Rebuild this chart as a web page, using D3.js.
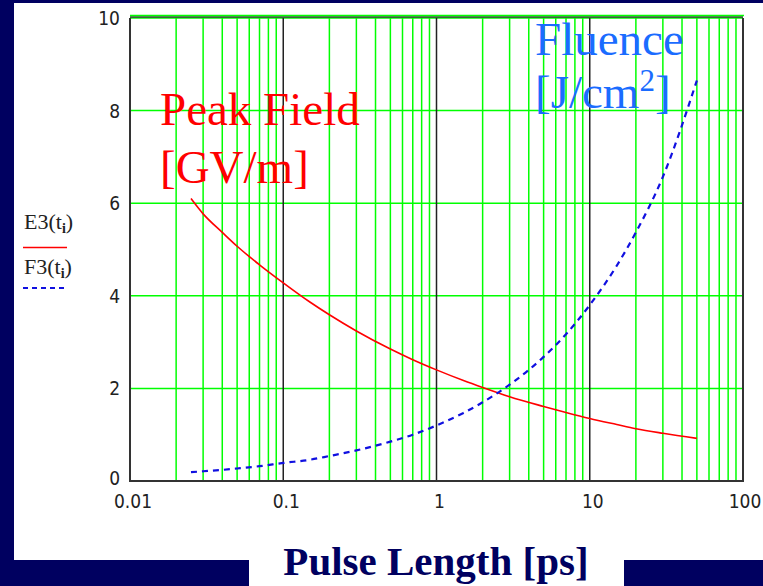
<!DOCTYPE html>
<html>
<head>
<meta charset="utf-8">
<script src="https://cdn.jsdelivr.net/npm/d3@7"></script>
<style>
  html, body { margin: 0; padding: 0; background: #000060; }
  svg { display: block; }
</style>
</head>
<body>
<svg id="chart" width="763" height="586"></svg>
<script>
// pulse length samples [ps]
const pulseLength = [0.025, 0.03, 0.04, 0.05, 0.07, 0.1, 0.15, 0.2, 0.3, 0.5, 0.7,
                     1, 1.5, 2, 3, 5, 7, 10, 15, 20, 30, 50];
// peak field E3 [GV/m]
const peakField = [6.1, 5.77, 5.37, 5.07, 4.67, 4.28, 3.86, 3.59, 3.24, 2.85, 2.62,
                   2.4, 2.17, 2.02, 1.82, 1.61, 1.48, 1.35, 1.22, 1.13, 1.03, 0.92];
// fluence F3 [J/cm^2]
const fluence = [0.19, 0.21, 0.24, 0.27, 0.32, 0.39, 0.46, 0.54, 0.66, 0.85, 1.0,
                 1.2, 1.47, 1.7, 2.08, 2.68, 3.17, 3.8, 4.65, 5.37, 6.57, 8.65];

const xTicks = [0.01, 0.1, 1, 10, 100];
const xTickLabels = ["0.01", "0.1", "1", "10", "100"];
const yTicks = [0, 2, 4, 6, 8, 10];

const svg = d3.select("#chart");
const navy = "#000060";

// white slide panel + title box
svg.append("rect").attr("x", 14).attr("y", 3).attr("width", 749).attr("height", 557).attr("fill", "#fff");
svg.append("rect").attr("x", 249).attr("y", 540).attr("width", 375).attr("height", 46).attr("fill", "#fff");

const pLeft = 130, pRight = 743, pTop = 18, pBottom = 481;

const x = d3.scaleLog().domain([0.01, 100]).range([pLeft, pRight]);
const y = d3.scaleLinear().domain([0, 10]).range([pBottom, pTop]);

const g = svg.append("g");

// minor vertical grid (2..9 per decade)
let minor = [];
for (let d = 0.01; d < 99; d *= 10) {
  for (let k = 2; k <= 9; k++) minor.push(+(d * k).toPrecision(3));
}
g.selectAll(".vminor").data(minor).enter().append("line")
  .attr("x1", d => x(d)).attr("x2", d => x(d))
  .attr("y1", pTop).attr("y2", pBottom)
  .attr("stroke", "#00ff00").attr("stroke-width", 1.5);

// horizontal grid
g.selectAll(".hgrid").data(yTicks.slice(1)).enter().append("line")
  .attr("x1", pLeft).attr("x2", pRight)
  .attr("y1", d => y(d)).attr("y2", d => y(d))
  .attr("stroke", "#00ff00").attr("stroke-width", 1.5);

// decade lines
g.selectAll(".vmajor").data(xTicks.slice(1, -1)).enter().append("line")
  .attr("x1", d => x(d)).attr("x2", d => x(d))
  .attr("y1", pTop).attr("y2", pBottom)
  .attr("stroke", "#222").attr("stroke-width", 1.5);

// frame
g.append("path")
  .attr("d", `M${pLeft},${pTop}V${pBottom}H${pRight}V${pTop}`)
  .attr("fill", "none").attr("stroke", "#333").attr("stroke-width", 2);
g.append("line").attr("x1", pLeft).attr("x2", pRight).attr("y1", pTop - 1).attr("y2", pTop - 1)
  .attr("stroke", "#333").attr("stroke-width", 1.5);
g.append("line").attr("x1", pLeft).attr("x2", pRight + 1).attr("y1", pTop - 2.5).attr("y2", pTop - 2.5)
  .attr("stroke", "#00ff00").attr("stroke-width", 1.5);

// tick labels
const tickFont = "'Liberation Sans Narrow', 'DejaVu Sans Condensed', 'Liberation Sans', sans-serif";
g.selectAll(".ylab").data(yTicks).enter().append("text")
  .attr("x", pLeft - 10).attr("y", d => y(d) + (d === 0 ? 4 : 7))
  .attr("text-anchor", "end")
  .attr("font-family", tickFont).attr("font-size", 19).attr("fill", "#222")
  .text(d => d);
g.selectAll(".xlab").data(xTicks).enter().append("text")
  .attr("x", (d, i) => x(d) + (i === 4 ? 2 : 3))
  .attr("y", pBottom + 27)
  .attr("text-anchor", "middle")
  .attr("font-family", tickFont).attr("font-size", 19).attr("fill", "#222")
  .text((d, i) => xTickLabels[i]);

// curves
const pts = (vals) => pulseLength.map((t, i) => [t, vals[i]]);
const line = d3.line().x(d => x(d[0])).y(d => y(d[1])).curve(d3.curveMonotoneX);

g.append("path").datum(pts(peakField))
  .attr("d", line).attr("fill", "none")
  .attr("stroke", "#ff0000").attr("stroke-width", 1.6);
g.append("path").datum(pts(fluence))
  .attr("d", line).attr("fill", "none")
  .attr("stroke", "#1010e0").attr("stroke-width", 2.2)
  .attr("stroke-dasharray", "6,5");

// legend
const serif = "'Liberation Serif', 'Times New Roman', serif";
function legendLabel(txt, yy) {
  const t = svg.append("text").attr("x", 24).attr("y", yy)
    .attr("font-family", serif).attr("font-size", 22).attr("fill", "#222");
  t.append("tspan").text(txt + "(t");
  t.append("tspan").attr("font-size", 14).attr("dy", 4).attr("font-weight", "bold").text("i");
  t.append("tspan").attr("dy", -4).text(")");
}
legendLabel("E3", 229);
svg.append("line").attr("x1", 23).attr("x2", 67).attr("y1", 247.5).attr("y2", 247.5)
  .attr("stroke", "#ff0000").attr("stroke-width", 1.6);
legendLabel("F3", 274);
svg.append("line").attr("x1", 23).attr("x2", 67).attr("y1", 288).attr("y2", 288)
  .attr("stroke", "#1010e0").attr("stroke-width", 2).attr("stroke-dasharray", "5,4");

// annotations
svg.append("text").attr("x", 160).attr("y", 125)
  .attr("font-family", serif).attr("font-size", 47).attr("fill", "#ff0000").text("Peak Field");
svg.append("text").attr("x", 160).attr("y", 183)
  .attr("font-family", serif).attr("font-size", 47).attr("fill", "#ff0000").text("[GV/m]");
svg.append("text").attr("x", 535).attr("y", 55)
  .attr("font-family", serif).attr("font-size", 47).attr("fill", "#1a6cff").text("Fluence");
const fl = svg.append("text").attr("x", 535).attr("y", 108)
  .attr("font-family", serif).attr("font-size", 47).attr("fill", "#1a6cff");
fl.append("tspan").text("[J/cm");
fl.append("tspan").attr("font-size", 31).attr("dy", -17).text("2");
fl.append("tspan").attr("dy", 17).text("]");

// axis title
svg.append("text").attr("x", 436).attr("y", 575)
  .attr("text-anchor", "middle")
  .attr("font-family", serif).attr("font-size", 41).attr("font-weight", "bold")
  .attr("fill", navy).text("Pulse Length [ps]");
</script>
</body>
</html>
